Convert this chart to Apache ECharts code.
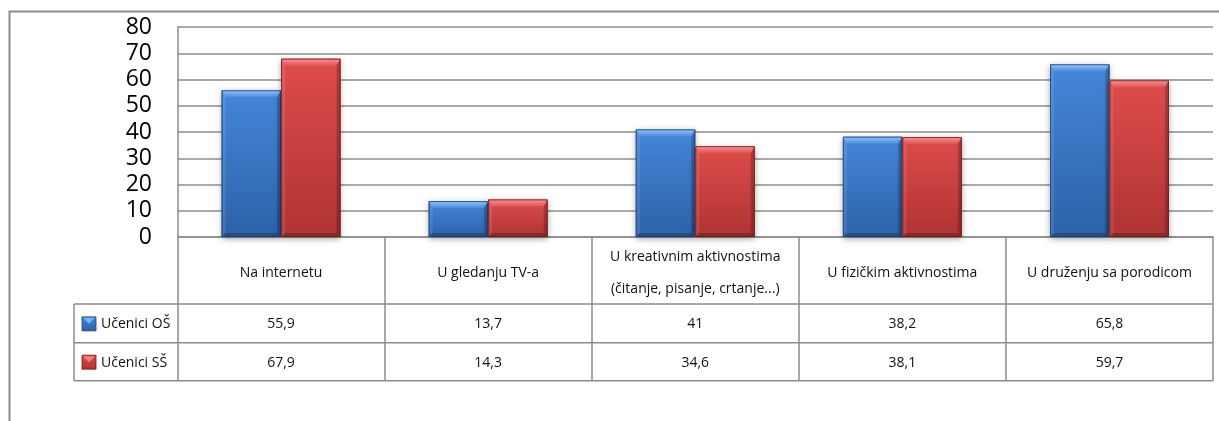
<!DOCTYPE html>
<html>
<head>
<meta charset="utf-8">
<script src="https://cdn.jsdelivr.net/npm/echarts@6/dist/echarts.min.js"></script>
<style>
  html, body { margin: 0; padding: 0; background: #ffffff; }
  #chart { width: 1219px; height: 421px; }
</style>
</head>
<body>
<div id="chart"></div>
<script>
// Categories shown in the header row of the data table
const categories = [
  'Na internetu',
  'U gledanju TV-a',
  'U kreativnim aktivnostima\n(čitanje, pisanje, crtanje...)',
  'U fizičkim aktivnostima',
  'U druženju sa porodicom'
];
const seriesNames = ['Učenici OŠ', 'Učenici SŠ'];
const valuesOS = [55.9, 13.7, 41, 38.2, 65.8];
const valuesSS = [67.9, 14.3, 34.6, 38.1, 59.7];
const yMin = 0, yMax = 80, yStep = 10;

const FONT = 'Open Sans';
const LINE = '#8c8c8c';
const BAR_RATIO = 0.287;   // each bar's share of a category band

// Face / bevel colours per series
const palette = [
  { face: ['#4586d8', '#2d61aa'], top: ['#93c6ff', '#4b8bdb'], edge: '#1c4277', key: '#2f63ad', keyTop: '#78b2f5' },
  { face: ['#de4c4c', '#b03333'], top: ['#ff9494', '#e05353'], edge: '#6a1b1b', key: '#b83636', keyTop: '#f77f7f' }
];

// Bar with bevelled edges, positioned through the axes' own scales
function bevelBar(params, api) {
  const idx = api.value(0), val = api.value(1);
  const base = api.coord([idx, 0]);
  const tip = api.coord([idx, val]);
  const band = api.size([1, 0])[0];
  const w = band * BAR_RATIO;
  const x0 = params.seriesIndex === 0 ? base[0] - w : base[0];
  const x1 = x0 + w;
  const yT = tip[1], yB = base[1];
  const h = yB - yT;
  const t = Math.min(7, h / 3), s = 4, b = Math.min(4, h / 4);
  const c = palette[params.seriesIndex];
  const G = echarts.graphic.LinearGradient;
  return {
    type: 'group',
    children: [
      { type: 'rect', shape: { x: x0, y: yT, width: w, height: h },
        style: { fill: c.face[1], shadowBlur: 6, shadowOffsetY: 2, shadowColor: 'rgba(0,0,0,0.35)' } },
      { type: 'rect', shape: { x: x0, y: yT, width: w, height: h },
        style: { fill: new G(0, 0, 0, 1, [{ offset: 0, color: c.face[0] }, { offset: 1, color: c.face[1] }]) } },
      { type: 'polygon', shape: { points: [[x0, yT], [x1, yT], [x1 - s, yT + t], [x0 + s, yT + t]] },
        style: { fill: new G(0, 0, 0, 1, [{ offset: 0, color: c.top[0] }, { offset: 1, color: c.top[1] }]) } },
      { type: 'polygon', shape: { points: [[x0, yT], [x0 + s, yT + t], [x0 + s, yB - b], [x0, yB]] },
        style: { fill: 'rgba(255,255,255,0.10)' } },
      { type: 'polygon', shape: { points: [[x1, yT], [x1, yB], [x1 - s, yB - b], [x1 - s, yT + t]] },
        style: { fill: 'rgba(0,0,0,0.20)' } },
      { type: 'polygon', shape: { points: [[x0, yB], [x0 + s, yB - b], [x1 - s, yB - b], [x1, yB]] },
        style: { fill: 'rgba(0,0,0,0.22)' } },
      { type: 'rect', shape: { x: x0 + 0.5, y: yT + 0.5, width: w - 1, height: h - 1 },
        style: { fill: 'none', stroke: c.edge, lineWidth: 1, opacity: 0.8 } }
    ]
  };
}

const chart = echarts.init(document.getElementById('chart'), null, { renderer: 'canvas' });

const grid = { left: 177.5, top: 27, width: 1035.5, height: 210 };
const tableBottom = 380.7;
const rowLines = [304, 342.7, tableBottom];
const legendLeft = 74;

const option = {
  animation: false,
  backgroundColor: '#ffffff',
  grid: Object.assign({ containLabel: false }, grid),
  xAxis: {
    type: 'category',
    data: categories,
    boundaryGap: true,
    axisLine: { show: true, lineStyle: { color: LINE, width: 1.5 } },
    axisTick: { show: true, interval: 0, length: tableBottom - (grid.top + grid.height),
                lineStyle: { color: LINE, width: 1.5 } },
    axisLabel: {
      interval: 0, margin: 36.5, verticalAlign: 'middle',
      fontFamily: FONT, fontSize: 14, lineHeight: 32, color: '#111', align: 'center'
    },
    splitLine: { show: false }
  },
  yAxis: {
    type: 'value',
    min: yMin, max: yMax, interval: yStep,
    axisLine: { show: true, lineStyle: { color: LINE, width: 1.5 } },
    axisTick: { show: false },
    axisLabel: { margin: 25.5, fontFamily: FONT, fontSize: 23, color: '#000' },
    splitLine: { show: true, lineStyle: { color: LINE, width: 1.5 } }
  },
  series: [
    { name: seriesNames[0], type: 'custom', renderItem: bevelBar, clip: false,
      encode: { x: 0, y: 1 }, data: valuesOS.map((v, i) => [i, v]) },
    { name: seriesNames[1], type: 'custom', renderItem: bevelBar, clip: false,
      encode: { x: 0, y: 1 }, data: valuesSS.map((v, i) => [i, v]) }
  ]
};
chart.setOption(option);

// Data table below the plot: borders, legend keys, and value cells
const rightEdge = grid.left + grid.width;
const fmt = v => String(v).replace('.', ',');
const graphics = [];

// outer chart frame
graphics.push({ type: 'polyline', shape: { points: [[9.5, 421], [9.5, 11.5], [1219, 11.5]] },
  style: { stroke: LINE, lineWidth: 2, fill: 'none' }, z: 1 });

// horizontal rules of the series rows
rowLines.forEach(y => graphics.push({ type: 'line', shape: { x1: legendLeft, y1: y, x2: rightEdge, y2: y },
  style: { stroke: LINE, lineWidth: 1.5 }, z: 5 }));
// left border of the legend column
graphics.push({ type: 'line', shape: { x1: legendLeft, y1: rowLines[0], x2: legendLeft, y2: tableBottom },
  style: { stroke: LINE, lineWidth: 1.5 }, z: 5 });

const rows = [valuesOS, valuesSS];
rows.forEach((vals, r) => {
  const yTop = rowLines[r], yBot = rowLines[r + 1];
  const yMid = (yTop + yBot) / 2 + 1;
  const c = palette[r];
  // legend key
  const kx = 82, ky = yMid - 7.5, ks = 14;
  graphics.push({ type: 'rect', shape: { x: kx, y: ky, width: ks, height: ks },
    style: { fill: new echarts.graphic.LinearGradient(0, 0, 0, 1, [{ offset: 0, color: c.face[0] }, { offset: 1, color: c.face[1] }]),
             stroke: c.edge, lineWidth: 0.8 }, z: 6 });
  graphics.push({ type: 'polygon', shape: { points: [[kx + 1, ky + 1], [kx + ks - 1, ky + 1], [kx + ks / 2, ky + 7]] },
    style: { fill: c.keyTop }, z: 7 });
  graphics.push({ type: 'text', x: 101, y: yMid,
    style: { text: seriesNames[r], fontFamily: FONT, fontSize: 14, fill: '#111', align: 'left', verticalAlign: 'middle' }, z: 6 });
  // values
  vals.forEach((v, i) => {
    const cx = chart.convertToPixel({ xAxisIndex: 0 }, i);
    graphics.push({ type: 'text', x: cx, y: yMid,
      style: { text: fmt(v), fontFamily: FONT, fontSize: 14, fill: '#111', align: 'center', verticalAlign: 'middle' }, z: 6 });
  });
});

chart.setOption({ graphic: graphics });
</script>
</body>
</html>
